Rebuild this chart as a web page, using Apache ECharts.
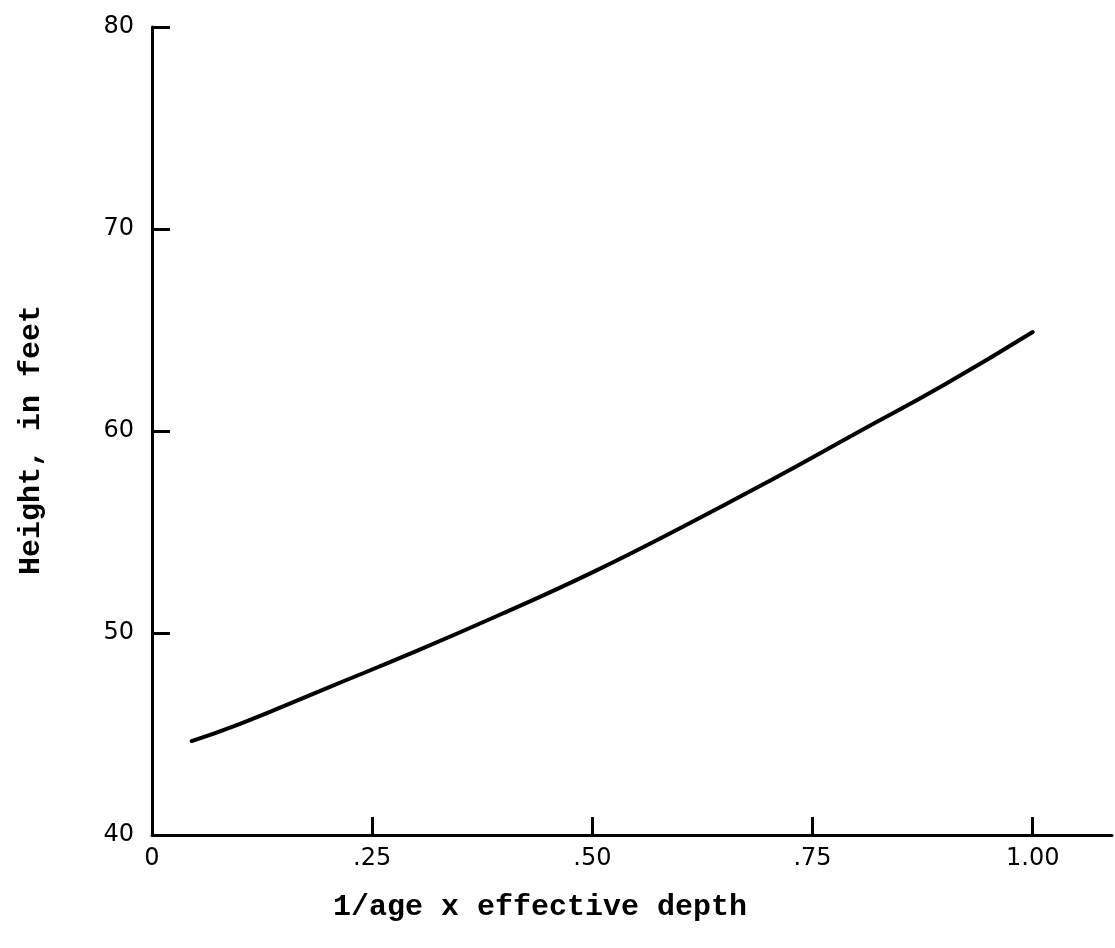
<!DOCTYPE html>
<html>
<head>
<meta charset="utf-8">
<script src="https://cdn.jsdelivr.net/npm/echarts@6/dist/echarts.min.js"></script>
<style>html,body{margin:0;padding:0;background:#fff}#c{width:1115px;height:948px}</style>
</head>
<body>
<div id="c"></div>
<script>
// Data
const xValues = [0.045, 0.10, 0.20, 0.30, 0.40, 0.50, 0.60, 0.70, 0.80, 0.90, 1.00];
const heightValues = [44.65, 45.5, 47.3, 49.1, 51.0, 53.0, 55.2, 57.5, 59.9, 62.3, 64.9];
const xTicks = [0, 0.25, 0.5, 0.75, 1.0];
const xTickLabels = ['0', '.25', '.50', '.75', '1.00'];
const yTicks = [40, 50, 60, 70, 80];
const xTitle = '1/age x effective depth';
const yTitle = 'Height, in feet';

const chart = echarts.init(document.getElementById('c'), null, {renderer: 'canvas'});
const labelFont = {color: '#000', fontFamily: 'DejaVu Sans', fontSize: 24};
const titleFont = {color: '#000', fontFamily: 'Liberation Mono', fontSize: 30, fontWeight: 'bold'};
chart.setOption({
  animation: false,
  backgroundColor: '#fff',
  grid: {left: 152, top: 27, right: 3, bottom: 113, containLabel: false},
  xAxis: {
    type: 'value', min: 0, max: 1.09, interval: 0.25,
    name: xTitle, nameLocation: 'middle', nameGap: 57,
    nameTextStyle: Object.assign({padding: [0, 184, 0, 0]}, titleFont),
    axisLine: {show: true, lineStyle: {color: '#000', width: 3}},
    axisTick: {show: true, inside: true, length: 18, lineStyle: {color: '#000', width: 3}, customValues: xTicks},
    axisLabel: Object.assign({margin: 12, customValues: xTicks,
      formatter: v => { const i = xTicks.findIndex(t => Math.abs(t - v) < 1e-6); return i >= 0 ? xTickLabels[i] : ''; }}, labelFont),
    splitLine: {show: false}
  },
  yAxis: {
    type: 'value', min: 40, max: 80, interval: 10,
    name: yTitle, nameLocation: 'middle', nameGap: 106, nameRotate: 90,
    nameTextStyle: Object.assign({padding: [0, 18, 0, 0]}, titleFont),
    axisLine: {show: true, lineStyle: {color: '#000', width: 3}},
    axisTick: {show: true, inside: true, length: 18, lineStyle: {color: '#000', width: 3}, customValues: yTicks},
    axisLabel: Object.assign({margin: 18, customValues: yTicks}, labelFont),
    splitLine: {show: false}
  },
  series: [{
    type: 'line',
    data: xValues.map((x, i) => [x, heightValues[i]]),
    smooth: true,
    showSymbol: false,
    lineStyle: {color: '#000', width: 4, cap: 'round'}
  }]
});
</script>
</body>
</html>
